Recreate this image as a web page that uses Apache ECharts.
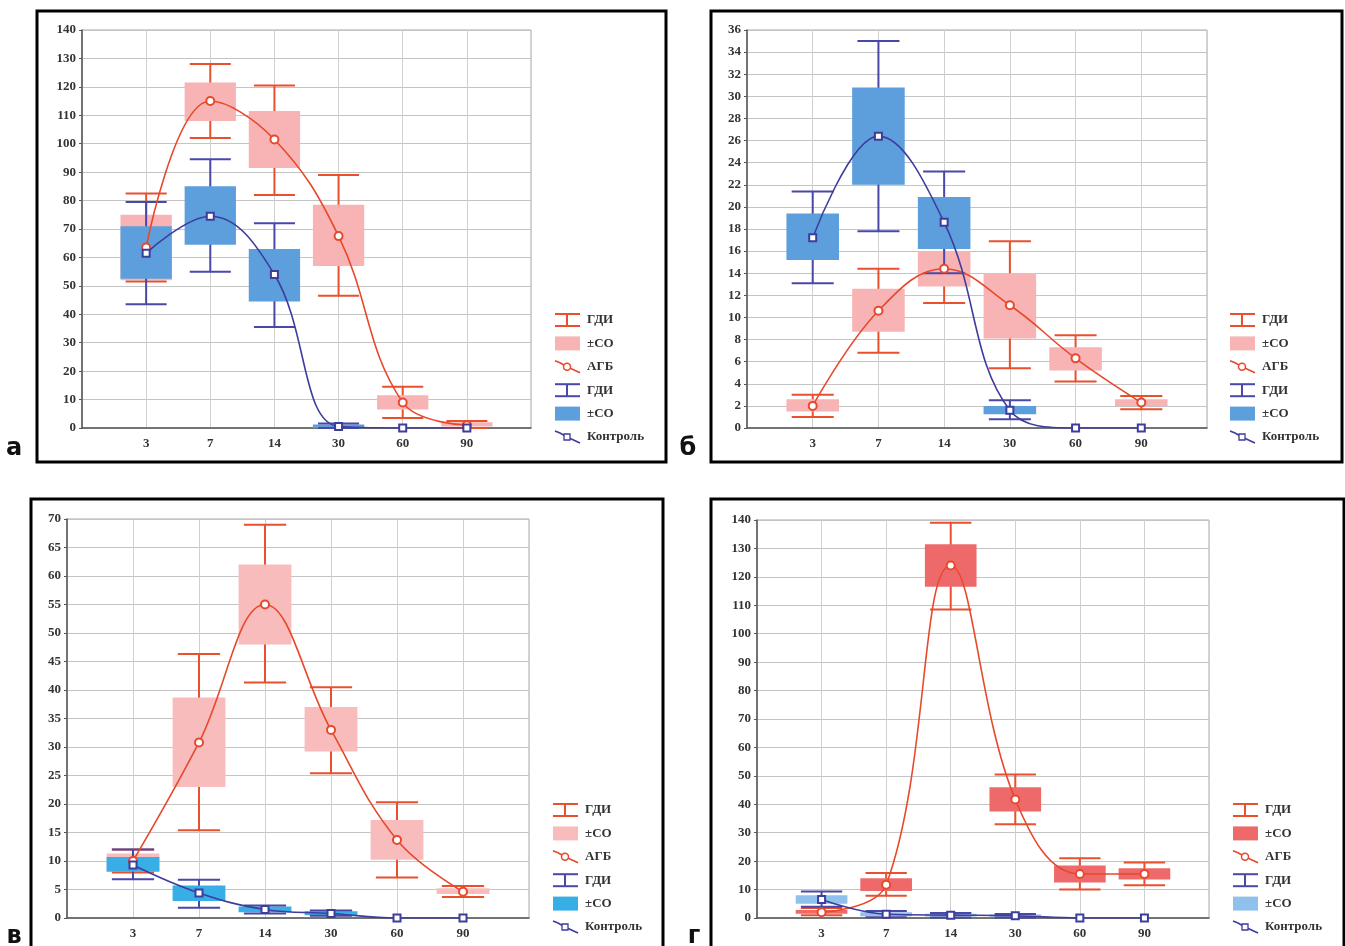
<!DOCTYPE html>
<html><head><meta charset="utf-8">
<script src="https://cdn.jsdelivr.net/npm/echarts@6/dist/echarts.min.js"></script>
<style>html,body{margin:0;padding:0;background:#fff}#c{width:1345px;height:946px}</style>
</head><body><div id="c"></div>
<script>
// ---- data ----
const categories = ['3', '7', '14', '30', '60', '90'];
const legendLabels = ['ГДИ', '±СО', 'АГБ', 'ГДИ', '±СО', 'Контроль'];
const panelLetters = ['а', 'б', 'в', 'г'];
const yMax = [140, 36, 70, 140];
const yStep = [10, 2, 5, 10];

// panel а
const a_AGB_mean = [63.5, 115, 101.5, 67.5, 9, 1];
const a_AGB_sdLo = [52, 108, 91.5, 57, 6.5, 0.5];
const a_AGB_sdHi = [75, 121.5, 111.5, 78.5, 11.5, 2];
const a_AGB_ciLo = [51.5, 102, 82, 46.5, 3.5, 0];
const a_AGB_ciHi = [82.5, 128, 120.5, 89, 14.5, 2.5];
const a_CTRL_mean = [61.5, 74.5, 54, 0.5, 0, 0];
const a_CTRL_sdLo = [52.5, 64.5, 44.5, 0, null, null];
const a_CTRL_sdHi = [71, 85, 63, 1.2, null, null];
const a_CTRL_ciLo = [43.5, 55, 35.5, 0, null, null];
const a_CTRL_ciHi = [79.5, 94.5, 72, 1.6, null, null];

// panel б
const b_AGB_mean = [2, 10.6, 14.4, 11.1, 6.3, 2.3];
const b_AGB_sdLo = [1.5, 8.7, 12.8, 8.1, 5.2, 2.0];
const b_AGB_sdHi = [2.6, 12.6, 16.0, 14.0, 7.3, 2.6];
const b_AGB_ciLo = [1.0, 6.8, 11.3, 5.4, 4.2, 1.7];
const b_AGB_ciHi = [3.0, 14.4, 17.5, 16.9, 8.4, 2.9];
const b_CTRL_mean = [17.2, 26.4, 18.6, 1.6, 0, 0];
const b_CTRL_sdLo = [15.2, 22.0, 16.2, 1.25, null, null];
const b_CTRL_sdHi = [19.4, 30.8, 20.9, 2.0, null, null];
const b_CTRL_ciLo = [13.1, 17.8, 14.0, 0.8, null, null];
const b_CTRL_ciHi = [21.4, 35.0, 23.2, 2.5, null, null];

// panel в
const c_AGB_mean = [10, 30.8, 55, 33, 13.7, 4.6];
const c_AGB_sdLo = [8.3, 23, 48, 29.2, 10.2, 4.2];
const c_AGB_sdHi = [11.3, 38.7, 62, 37, 17.2, 5.2];
const c_AGB_ciLo = [8, 15.4, 41.3, 25.4, 7.1, 3.7];
const c_AGB_ciHi = [12, 46.3, 69, 40.5, 20.3, 5.6];
const c_CTRL_mean = [9.3, 4.4, 1.5, 0.8, 0, 0];
const c_CTRL_sdLo = [8.1, 3.0, 1.0, 0.5, null, null];
const c_CTRL_sdHi = [10.7, 5.7, 2.0, 1.2, null, null];
const c_CTRL_ciLo = [6.8, 1.8, 0.8, 0.4, null, null];
const c_CTRL_ciHi = [12.0, 6.7, 2.2, 1.3, null, null];

// panel г
const d_AGB_mean = [2, 11.7, 124, 41.7, 15.5, 15.5];
const d_AGB_sdLo = [1.5, 9.5, 116.5, 37.5, 12.5, 13.5];
const d_AGB_sdHi = [2.8, 14, 131.5, 46, 18.5, 17.5];
const d_AGB_ciLo = [1, 7.8, 108.5, 33, 10, 11.5];
const d_AGB_ciHi = [3.5, 15.8, 139, 50.5, 21, 19.5];
const d_CTRL_mean = [6.5, 1.3, 1, 0.8, 0, 0];
const d_CTRL_sdLo = [5, 0.6, 0.5, 0.4, null, null];
const d_CTRL_sdHi = [8, 2, 1.5, 1.2, null, null];
const d_CTRL_ciLo = [4, 0.3, 0.2, 0.2, null, null];
const d_CTRL_ciHi = [9.3, 2.5, 1.8, 1.4, null, null];

// ---- layout & styles ----
const grids = [
  {left: 82, top: 30, width: 449, height: 398},
  {left: 747, top: 30, width: 460, height: 398},
  {left: 67, top: 519, width: 462, height: 399},
  {left: 757, top: 520, width: 452, height: 398}
];
const frames = [
  {x: 37, y: 11, w: 629, h: 451},
  {x: 711, y: 11, w: 631, h: 451},
  {x: 31, y: 499, w: 632, h: 470},
  {x: 711, y: 499, w: 633, h: 470}
];
const letterPos = [[14, 449], [688, 449], [14, 937], [694, 937]];
const legendPos = [[555, 320], [1230, 320], [553, 810], [1233, 810]];
const boxRed = ['#f8b4b4', '#f8b4b4', '#f8bcbc', '#ee6a6a'];
const boxBlue = ['#5c9fdc', '#5c9fdc', '#38aee6', '#8fc1ec'];
const redLine = '#e8482c', blueLine = '#3d3d9e';
const redWhisk = '#e8502e', blueWhisk = '#4848a8';
const serif = '"Liberation Serif", "DejaVu Serif", serif';

const panels = [
  {red: [a_AGB_mean, a_AGB_sdLo, a_AGB_sdHi, a_AGB_ciLo, a_AGB_ciHi], blue: [a_CTRL_mean, a_CTRL_sdLo, a_CTRL_sdHi, a_CTRL_ciLo, a_CTRL_ciHi]},
  {red: [b_AGB_mean, b_AGB_sdLo, b_AGB_sdHi, b_AGB_ciLo, b_AGB_ciHi], blue: [b_CTRL_mean, b_CTRL_sdLo, b_CTRL_sdHi, b_CTRL_ciLo, b_CTRL_ciHi]},
  {red: [c_AGB_mean, c_AGB_sdLo, c_AGB_sdHi, c_AGB_ciLo, c_AGB_ciHi], blue: [c_CTRL_mean, c_CTRL_sdLo, c_CTRL_sdHi, c_CTRL_ciLo, c_CTRL_ciHi]},
  {red: [d_AGB_mean, d_AGB_sdLo, d_AGB_sdHi, d_AGB_ciLo, d_AGB_ciHi], blue: [d_CTRL_mean, d_CTRL_sdLo, d_CTRL_sdHi, d_CTRL_ciLo, d_CTRL_ciHi]}
];

function boxData(arr) {
  const [m, lo, hi, cl, ch] = arr;
  return categories.map((c, i) => lo[i] == null ? null : [i + 1, lo[i], hi[i], cl[i], ch[i]]).filter(Boolean);
}
function meanData(arr) { return categories.map((c, i) => [i + 1, arr[0][i]]); }

function makeRender(fill, whisk) {
  return function (params, api) {
    const x = api.value(0);
    const slot = api.size([1, 0])[0];
    const bw = slot * 0.8, cw = slot * 0.64;
    const lo = api.coord([x, api.value(1)]);
    const hi = api.coord([x, api.value(2)]);
    const wl = api.coord([x, api.value(3)]);
    const wh = api.coord([x, api.value(4)]);
    const cx = lo[0];
    return {type: 'group', children: [
      {type: 'line', shape: {x1: cx, y1: wl[1], x2: cx, y2: wh[1]}, style: {stroke: whisk, lineWidth: 2}},
      {type: 'rect', shape: {x: cx - bw / 2, y: hi[1], width: bw, height: Math.max(lo[1] - hi[1], 2)}, style: {fill: fill}},
      {type: 'line', shape: {x1: cx - cw / 2, y1: wl[1], x2: cx + cw / 2, y2: wl[1]}, style: {stroke: whisk, lineWidth: 2}},
      {type: 'line', shape: {x1: cx - cw / 2, y1: wh[1], x2: cx + cw / 2, y2: wh[1]}, style: {stroke: whisk, lineWidth: 2}}
    ]};
  };
}

const xAxis = [], yAxis = [], series = [], graphic = [];
grids.forEach((g, p) => {
  xAxis.push({
    type: 'value', gridIndex: p, min: 0, max: 7, interval: 1,
    axisLine: {show: true, lineStyle: {color: '#555', width: 1.5}},
    axisTick: {show: false},
    splitLine: {show: true, lineStyle: {color: '#cfcfcf', width: 1}},
    axisLabel: {
      formatter: v => (v >= 1 && v <= 6) ? categories[v - 1] : '',
      fontFamily: serif, fontWeight: 'bold', fontSize: 13, color: '#333', margin: 9
    }
  });
  yAxis.push({
    type: 'value', gridIndex: p, min: 0, max: yMax[p], interval: yStep[p],
    axisLine: {show: true, lineStyle: {color: '#555', width: 1.5}},
    axisTick: {show: true, length: 3, lineStyle: {color: '#555'}},
    splitLine: {show: true, lineStyle: {color: '#c4c4c4', width: 1}},
    axisLabel: {fontFamily: serif, fontWeight: 'bold', fontSize: 13, color: '#333', margin: 6}
  });
  const pd = panels[p];
  series.push({type: 'custom', xAxisIndex: p, yAxisIndex: p, z: 2, renderItem: makeRender(boxRed[p], redWhisk),
    encode: {x: 0, y: [1, 2, 3, 4]}, data: boxData(pd.red)});
  series.push({type: 'custom', xAxisIndex: p, yAxisIndex: p, z: 3, renderItem: makeRender(boxBlue[p], blueWhisk),
    encode: {x: 0, y: [1, 2, 3, 4]}, data: boxData(pd.blue)});
  series.push({type: 'line', xAxisIndex: p, yAxisIndex: p, z: 5, smooth: 0.4, data: meanData(pd.red),
    symbol: 'emptyCircle', symbolSize: 8, lineStyle: {color: redLine, width: 1.6},
    itemStyle: {color: redLine, borderWidth: 1.5}});
  series.push({type: 'line', xAxisIndex: p, yAxisIndex: p, z: 6, smooth: 0.4, data: meanData(pd.blue),
    symbol: 'emptyRect', symbolSize: 7, lineStyle: {color: blueLine, width: 1.6},
    itemStyle: {color: blueLine, borderWidth: 1.3}});

  // frame
  const f = frames[p];
  graphic.push({type: 'rect', shape: {x: f.x, y: f.y, width: f.w, height: f.h}, z: 100,
    style: {fill: 'none', stroke: '#000', lineWidth: 3}});
  // panel letter
  graphic.push({type: 'text', x: letterPos[p][0], y: letterPos[p][1], z: 100,
    style: {text: panelLetters[p], font: 'bold 24px "DejaVu Sans", sans-serif', fill: '#111', align: 'center', verticalAlign: 'middle'}});
  // legend
  const [lx, ly] = legendPos[p];
  const step = 23.4;
  legendLabels.forEach((lab, i) => {
    const y = ly + i * step;
    const isRed = i < 3;
    const col = isRed ? redWhisk : blueWhisk;
    const kids = [];
    const kind = i % 3;
    if (kind === 0) {
      kids.push({type: 'line', shape: {x1: lx, y1: y - 6, x2: lx + 25, y2: y - 6}, style: {stroke: col, lineWidth: 2}});
      kids.push({type: 'line', shape: {x1: lx, y1: y + 6, x2: lx + 25, y2: y + 6}, style: {stroke: col, lineWidth: 2}});
      kids.push({type: 'line', shape: {x1: lx + 12, y1: y - 6, x2: lx + 12, y2: y + 6}, style: {stroke: col, lineWidth: 2}});
    } else if (kind === 1) {
      kids.push({type: 'rect', shape: {x: lx, y: y - 7, width: 25, height: 14}, style: {fill: isRed ? boxRed[p] : boxBlue[p]}});
    } else {
      const lc = isRed ? redLine : blueLine;
      kids.push({type: 'polyline', shape: {points: [[lx, y - 6], [lx + 5, y - 4], [lx + 12, y], [lx + 25, y + 6]]}, style: {stroke: lc, lineWidth: 1.6, fill: 'none'}});
      if (isRed) kids.push({type: 'circle', shape: {cx: lx + 12, cy: y, r: 3.5}, style: {fill: '#fff', stroke: lc, lineWidth: 1.5}});
      else kids.push({type: 'rect', shape: {x: lx + 9, y: y - 3, width: 6, height: 6}, style: {fill: '#fff', stroke: lc, lineWidth: 1.3}});
    }
    kids.push({type: 'text', x: lx + 32, y: y, style: {text: lab, font: 'bold 13px ' + serif, fill: '#333', verticalAlign: 'middle'}});
    graphic.push({type: 'group', z: 100, children: kids});
  });
});

const chart = echarts.init(document.getElementById('c'), null, {renderer: 'canvas'});
chart.setOption({
  backgroundColor: '#fff',
  animation: false,
  grid: grids.map(g => Object.assign({show: true, borderColor: '#a8a8a8', borderWidth: 1, backgroundColor: 'transparent'}, g)),
  xAxis, yAxis, series, graphic
});
</script></body></html>
